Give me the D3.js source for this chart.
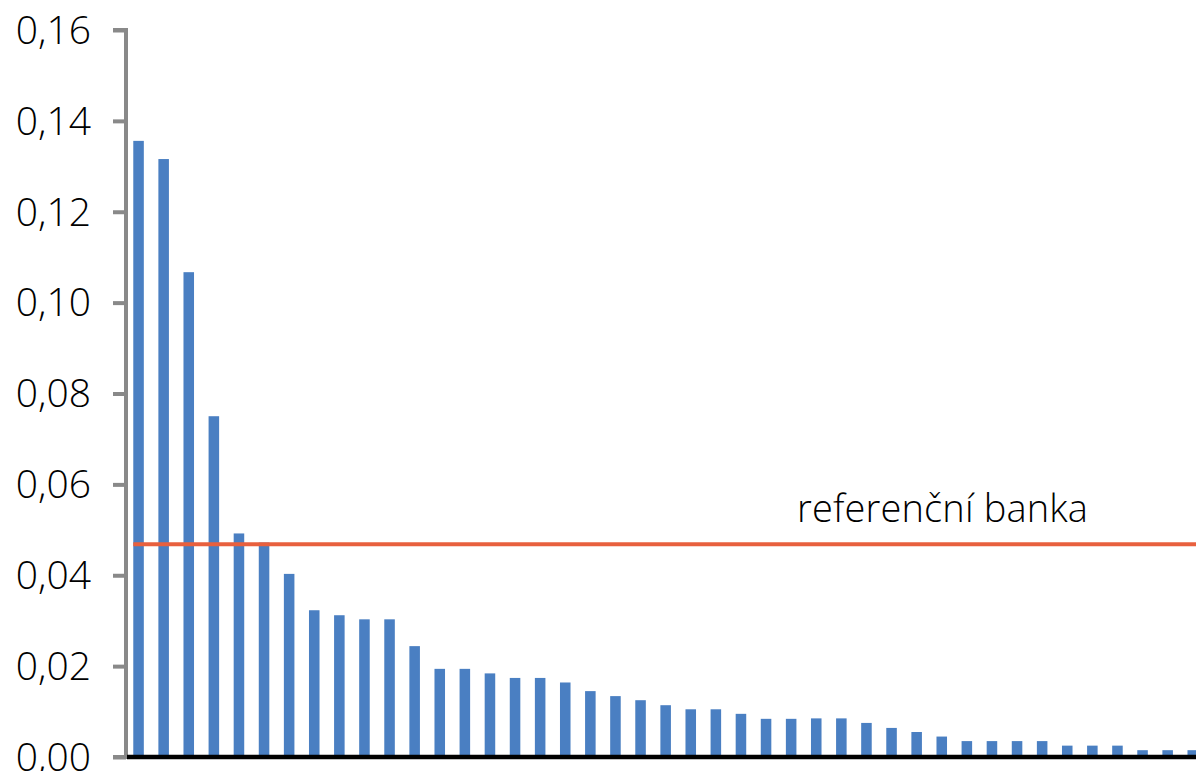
<!DOCTYPE html>
<html>
<head>
<meta charset="utf-8">
<script src="https://cdn.jsdelivr.net/npm/d3@7"></script>
<style>
  html, body { margin: 0; padding: 0; background: #fff; overflow: hidden; }
  svg { display: block; }
  text { font-family: "Open Sans", sans-serif; font-weight: 300; fill: #000; }
</style>
</head>
<body>
<svg id="chart" width="1196" height="771"></svg>
<script>
// ---- data ----
const categories = d3.range(1, 44).map(String);
const values = [0.1356, 0.1316, 0.1067, 0.0750, 0.0492, 0.0472, 0.0403, 0.0323, 0.0312, 0.0303,
                0.0303, 0.0244, 0.0194, 0.0194, 0.0184, 0.0174, 0.0174, 0.0164, 0.0145, 0.0134,
                0.0125, 0.0114, 0.0105, 0.0105, 0.0095, 0.0084, 0.0084, 0.0085, 0.0085, 0.0075,
                0.0064, 0.0055, 0.0045, 0.0035, 0.0035, 0.0035, 0.0035, 0.0025, 0.0025, 0.0025,
                0.0015, 0.0015, 0.0015];
const referenceValue = 0.0468;
const referenceLabel = "referenční banka";
const yTicks = [0, 0.02, 0.04, 0.06, 0.08, 0.10, 0.12, 0.14, 0.16];

// ---- layout ----
const svg = d3.select("#chart");
const x0 = 126, y0 = 757, yTop = 30, step = 25.1;
const x = d3.scaleBand().domain(categories)
  .range([x0, x0 + categories.length * step])
  .paddingInner(0.58).paddingOuter(0.29);
const y = d3.scaleLinear().domain([0, 0.16]).range([y0, yTop]);
const fmt = d3.formatLocale({decimal: ",", thousands: " ", grouping: [3], currency: ["", ""]}).format(".2f");

// bars
svg.append("g").selectAll("rect").data(values).join("rect")
  .attr("x", (d, i) => x(categories[i]))
  .attr("width", x.bandwidth())
  .attr("y", d => y(d))
  .attr("height", d => y(0) - y(d))
  .attr("fill", "#4a7fc2");

// y axis
const yAxis = d3.axisLeft(y).tickValues(yTicks).tickFormat(fmt).tickSize(13).tickPadding(22);
const gy = svg.append("g").attr("transform", `translate(${x0},0)`).call(yAxis);
gy.select(".domain").attr("stroke", "#898989").attr("stroke-width", 4)
  .attr("d", `M-13,${yTop}H0V${y0}H-13`);
gy.selectAll(".tick line").attr("stroke", "#898989").attr("stroke-width", 4);
gy.selectAll(".tick text").attr("font-size", 39).attr("font-family", "Open Sans")
  .attr("font-weight", 300).attr("fill", "#000").attr("dy", "0.34em");

// x axis baseline
svg.append("line")
  .attr("x1", x0 + 1).attr("x2", 1196)
  .attr("y1", y(0)).attr("y2", y(0))
  .attr("stroke", "#000").attr("stroke-width", 4.5);

// reference line
svg.append("line")
  .attr("x1", x(categories[0])).attr("x2", 1196)
  .attr("y1", y(referenceValue)).attr("y2", y(referenceValue))
  .attr("stroke", "#e8603e").attr("stroke-width", 4);

svg.append("text")
  .attr("x", 797).attr("y", 522)
  .attr("font-size", 38)
  .attr("textLength", 291)
  .text(referenceLabel);
</script>
</body>
</html>
